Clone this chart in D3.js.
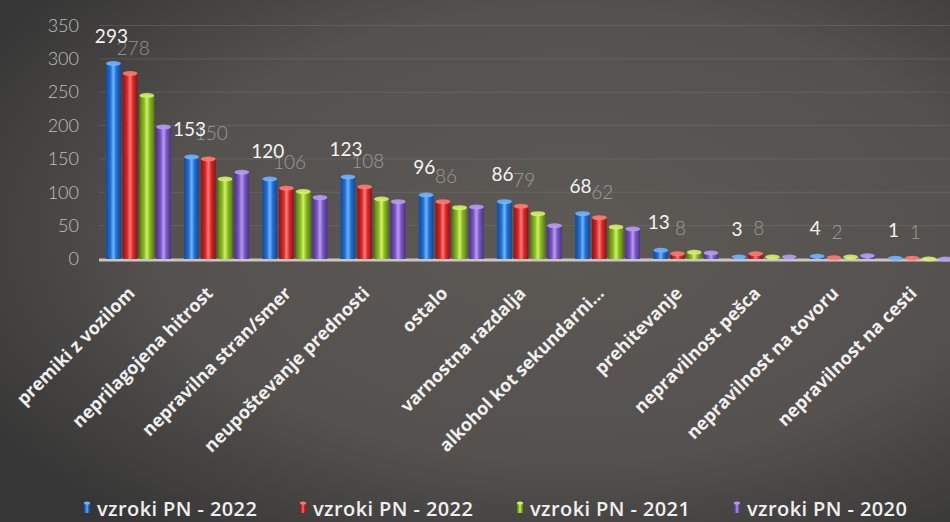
<!DOCTYPE html>
<html>
<head>
<meta charset="utf-8">
<script src="https://cdn.jsdelivr.net/npm/d3@7"></script>
<style>
  html, body { margin: 0; padding: 0; background: #3a3a3a; }
  svg { display: block; }
</style>
</head>
<body>
<svg id="chart" width="950" height="522"></svg>
<script>
const categories = [
  "premiki z vozilom", "neprilagojena hitrost", "nepravilna stran/smer",
  "neupoštevanje prednosti", "ostalo", "varnostna razdalja",
  "alkohol kot sekundarni...", "prehitevanje", "nepravilnost pešca",
  "nepravilnost na tovoru", "nepravilnost na cesti"
];
const seriesNames = ["vzroki PN - 2022", "vzroki PN - 2022", "vzroki PN - 2021", "vzroki PN - 2020"];
const s2022a = [293, 153, 120, 123, 96, 86, 68, 13, 3, 4, 1];
const s2022b = [278, 150, 106, 108, 86, 79, 62, 8, 8, 2, 1];
const s2021  = [245, 120, 101, 90, 77, 68, 48, 10, 3, 3, 0];
const s2020  = [198, 130, 92, 86, 78, 50, 45, 9, 3, 5, 0];
const yTicks = [0, 50, 100, 150, 200, 250, 300, 350];

const seriesValues = [s2022a, s2022b, s2021, s2020];
const colors = ["#1f6fd6", "#d8262a", "#86bb1f", "#7b55c2"];
const lightColors = ["#6fb4ff", "#ff7a70", "#d4f06a", "#b69cf0"];
const darkColors = ["#114a96", "#8e1216", "#56800e", "#4c318a"];

const W = 950, H = 522;
const svg = d3.select("#chart");
const defs = svg.append("defs");

// background with vignette
const bg = defs.append("radialGradient").attr("id", "bg")
  .attr("cx", "60%").attr("cy", "45%").attr("r", "72%");
bg.append("stop").attr("offset", "0%").attr("stop-color", "#5d5955");
bg.append("stop").attr("offset", "60%").attr("stop-color", "#54514e");
bg.append("stop").attr("offset", "100%").attr("stop-color", "#363636");
svg.append("rect").attr("width", W).attr("height", H).attr("fill", "url(#bg)");

// cylinder gradients
colors.forEach((c, i) => {
  const g = defs.append("linearGradient").attr("id", "bar" + i)
    .attr("x1", "0%").attr("x2", "100%").attr("y1", "0%").attr("y2", "0%");
  g.append("stop").attr("offset", "0%").attr("stop-color", darkColors[i]);
  g.append("stop").attr("offset", "30%").attr("stop-color", c);
  g.append("stop").attr("offset", "50%").attr("stop-color", lightColors[i]);
  g.append("stop").attr("offset", "70%").attr("stop-color", c);
  g.append("stop").attr("offset", "100%").attr("stop-color", darkColors[i]);
});

const y = d3.scaleLinear().domain([0, 350]).range([259, 25.5]);
const x0 = d3.scaleBand().domain(categories).range([99, 960])
  .paddingInner(0.17).paddingOuter(0.09);
const x1 = d3.scaleBand().domain(d3.range(4)).range([0, x0.bandwidth()])
  .paddingInner(0.12).paddingOuter(0);

// gridlines
svg.append("g").selectAll("line").data(yTicks.filter(t => t > 0)).join("line")
  .attr("x1", 99).attr("x2", W)
  .attr("y1", d => y(d)).attr("y2", d => y(d))
  .attr("stroke", "#8a8682").attr("stroke-opacity", 0.3).attr("stroke-width", 1);

// y axis labels
const yAxis = d3.axisLeft(y).tickValues(yTicks).tickSize(0).tickPadding(0);
const ya = svg.append("g").attr("transform", "translate(79,0)").call(yAxis);
ya.select(".domain").remove();
ya.selectAll("text")
  .attr("font-family", "Lato, 'Open Sans', sans-serif")
  .attr("font-size", 18).attr("font-weight", 300).attr("fill", "#c2bfbb");

// baseline / floor
svg.append("line").attr("x1", 99).attr("x2", W).attr("y1", y(0) + 1).attr("y2", y(0) + 1)
  .attr("stroke", "#c9c6c2").attr("stroke-width", 3);

// bars
const groups = svg.append("g").selectAll("g").data(categories).join("g")
  .attr("transform", d => `translate(${x0(d)},0)`);
groups.each(function(cat, ci) {
  const g = d3.select(this);
  seriesValues.forEach((vals, si) => {
    const v = vals[ci];
    const bx = x1(si), bw = x1.bandwidth();
    const top = y(v), h = y(0) - top;
    if (h > 0) {
      g.append("rect").attr("x", bx).attr("y", top).attr("width", bw).attr("height", h)
        .attr("fill", `url(#bar${si})`);
    }
    g.append("ellipse").attr("cx", bx + bw / 2).attr("cy", top)
      .attr("rx", bw / 2).attr("ry", 2.5)
      .attr("fill", lightColors[si]).attr("opacity", 0.9);
  });
});

// data labels: series 1 (faded, beneath) then series 0
[1, 0].forEach(si => {
  svg.append("g").selectAll("text").data(categories).join("text")
    .attr("x", (d) => x0(d) + x1(si) + x1.bandwidth() / 2 + (si === 0 ? -2 : 3))
    .attr("y", (d, i) => y(seriesValues[si][i]) - (si === 0 ? 21 : 19))
    .attr("text-anchor", "middle")
    .attr("font-family", "Lato, 'Open Sans', sans-serif")
    .attr("font-size", 19)
    .attr("font-weight", si === 0 ? 400 : 300)
    .attr("fill", si === 0 ? "#f4f4f4" : "#ffffff")
    .attr("fill-opacity", si === 0 ? 1 : 0.42)
    .text((d, i) => seriesValues[si][i]);
});

// x labels
svg.append("g").selectAll("text").data(categories).join("text")
  .attr("transform", d => `translate(${x0(d) + x0.bandwidth() / 2 - 7},${290}) rotate(-45)`)
  .attr("text-anchor", "end")
  .attr("dy", "0.35em")
  .attr("font-family", "'Open Sans', Lato, sans-serif")
  .attr("font-weight", 700)
  .attr("font-size", 18)
  .attr("fill", "#f0f0f0")
  .text(d => d);

// legend
const legendX = [84, 300, 517, 734];
const lg = svg.append("g").selectAll("g").data(seriesNames).join("g")
  .attr("transform", (d, i) => `translate(${legendX[i]},0)`);
lg.append("rect").attr("x", 0).attr("y", 503).attr("width", 6).attr("height", 10)
  .attr("fill", (d, i) => `url(#bar${i})`);
lg.append("ellipse").attr("cx", 3).attr("cy", 503).attr("rx", 3).attr("ry", 1.5)
  .attr("fill", (d, i) => lightColors[i]);
lg.append("text").attr("x", 13).attr("y", 516)
  .attr("font-family", "'Open Sans', Lato, sans-serif")
  .attr("font-weight", 600).attr("font-size", 20).attr("letter-spacing", 0.4)
  .attr("fill", "#f0f0f0")
  .text(d => d);
</script>
</body>
</html>
